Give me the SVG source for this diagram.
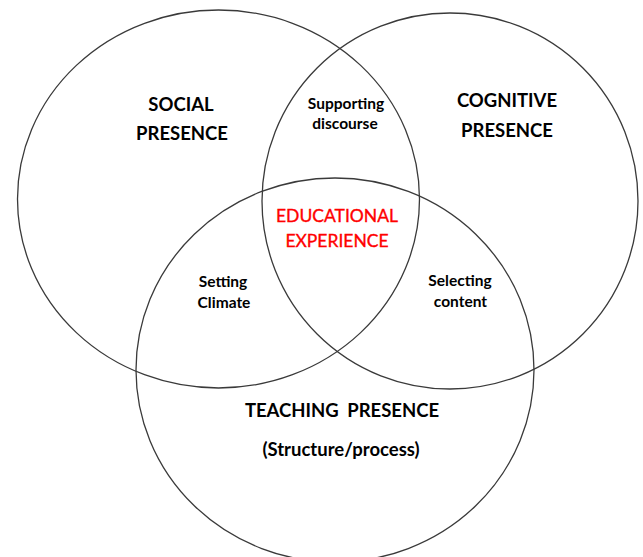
<svg xmlns="http://www.w3.org/2000/svg" width="643" height="557" viewBox="0 0 643 557">
  <style>
    .ring { fill: none; stroke: #3a3a3a; stroke-width: 1.3; }
    .lbl { font-family: Lato, "Liberation Sans", sans-serif; font-weight: bold; fill: #000; text-anchor: middle; }
    .big { font-size: 18.5px; }
    .small { font-size: 15.5px; }
    .core { font-family: Lato, "Liberation Sans", sans-serif; font-size: 17.5px; fill: #ff0000; stroke: #ff0000; stroke-width: 0.35; text-anchor: middle; }
  </style>
  <rect width="643" height="557" fill="#ffffff"/>
  <g id="connectors"/>
  <g id="social-presence">
    <ellipse class="ring" cx="218.5" cy="199" rx="201" ry="189"/>
    <text class="lbl big" x="181" y="111">SOCIAL</text>
    <text class="lbl big" x="182" y="140">PRESENCE</text>
  </g>
  <g id="cognitive-presence">
    <ellipse class="ring" cx="450" cy="201" rx="188" ry="188"/>
    <text class="lbl big" x="507" y="107">COGNITIVE</text>
    <text class="lbl big" x="507" y="137">PRESENCE</text>
  </g>
  <g id="teaching-presence">
    <ellipse class="ring" cx="335" cy="370" rx="199" ry="192"/>
    <text class="lbl big" x="342" y="417" word-spacing="4">TEACHING PRESENCE</text>
    <text class="lbl big" x="341" y="456">(Structure/process)</text>
  </g>
  <g id="supporting-discourse">
    <text class="lbl small" x="346" y="109">Supporting</text>
    <text class="lbl small" x="345" y="129">discourse</text>
  </g>
  <g id="setting-climate">
    <text class="lbl small" x="223" y="287">Setting</text>
    <text class="lbl small" x="224" y="308">Climate</text>
  </g>
  <g id="selecting-content">
    <text class="lbl small" x="460" y="286">Selecting</text>
    <text class="lbl small" x="460.5" y="307">content</text>
  </g>
  <g id="educational-experience">
    <text class="core" x="337" y="222">EDUCATIONAL</text>
    <text class="core" x="337" y="247">EXPERIENCE</text>
  </g>
</svg>
